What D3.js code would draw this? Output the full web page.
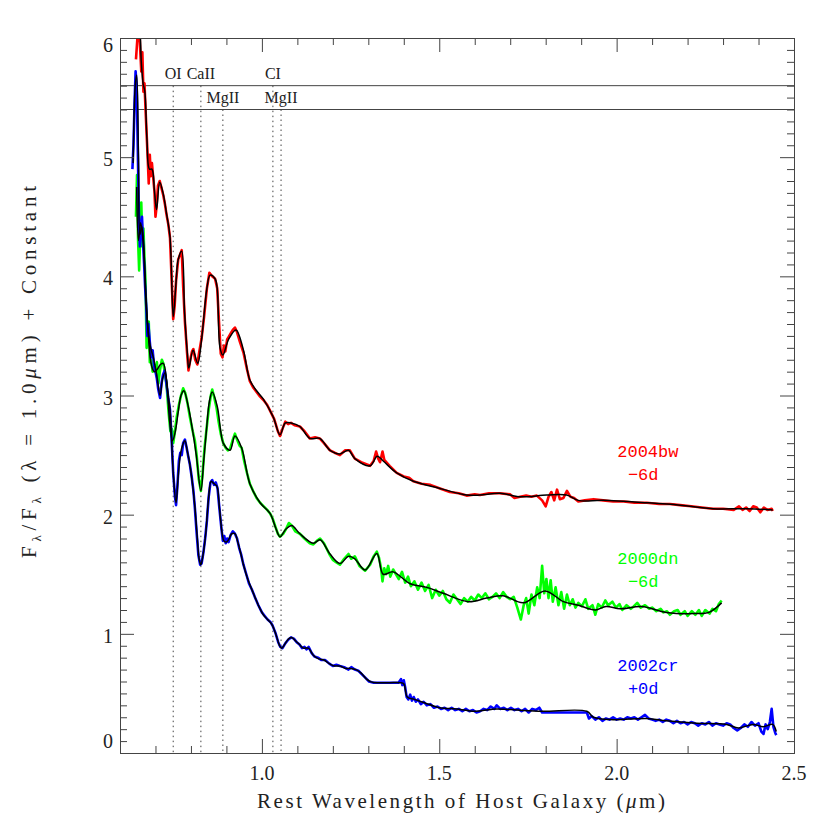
<!DOCTYPE html>
<html>
<head>
<meta charset="utf-8">
<script src="https://cdn.jsdelivr.net/npm/d3@7"></script>
<style>
  body { margin: 0; background: #fff; }
  svg { display: block; }
  .frame line, .frame path { stroke: #444; stroke-width: 1; }
  .tick-label { font-family: "Liberation Serif", serif; font-size: 20px; fill: #222; }
  .axis-title { font-family: "Liberation Serif", serif; font-size: 21px; fill: #222; }
  .line-id { font-family: "Liberation Serif", serif; font-size: 16px; fill: #222; }
  .sn-label { font-family: "Liberation Mono", monospace; font-size: 17px; }
</style>
</head>
<body>
<div id="chart"></div>
<script>

// x: rest wavelength (micron), y: F/F(1.0um) + constant
var xMajor = [1.0, 1.5, 2.0, 2.5];
var yMajor = [0, 1, 2, 3, 4, 5, 6];

var lineNames = ["OI", "CaII", "MgII", "CI", "MgII"];
var lineWaves = [0.750, 0.828, 0.890, 1.031, 1.054];
var lineRows  = [0, 0, 1, 0, 1];
var markerLevels = [5.6, 5.4];

var snNames  = ["2004bw", "2000dn", "2002cr"];
var snPhases = ["\u22126d", "\u22126d", "+0d"];
var snColors = ["#ff0000", "#00ff00", "#0000ff"];

// SN 2004bw -6d
var obs2004bw = [[0.645,5.82],[0.648,5.95],[0.651,6.08],[0.654,6.1],[0.657,5.9],[0.660,5.72],[0.663,5.88],[0.666,5.55],[0.669,5.62],[0.672,5.4],[0.675,5.2],[0.678,5.0],[0.681,4.78],[0.684,5.02],[0.687,4.84],[0.690,4.95],[0.693,4.85],[0.697,4.72],[0.700,4.5],[0.703,4.58],[0.707,4.76],[0.712,4.8],[0.717,4.74],[0.722,4.68],[0.727,4.6],[0.731,4.52],[0.736,4.44],[0.741,4.32],[0.745,4.02],[0.750,3.64],[0.754,3.75],[0.758,3.96],[0.764,4.14],[0.769,4.18],[0.774,4.22],[0.778,3.92],[0.783,3.62],[0.789,3.36],[0.793,3.21],[0.798,3.3],[0.803,3.37],[0.807,3.39],[0.812,3.3],[0.818,3.26],[0.823,3.36],[0.830,3.48],[0.837,3.66],[0.845,3.9],[0.852,4.03],[0.860,4.0],[0.868,3.98],[0.874,3.9],[0.879,3.62],[0.884,3.35],[0.889,3.32],[0.893,3.42],[0.897,3.37],[0.902,3.47],[0.906,3.49],[0.912,3.52],[0.918,3.55],[0.924,3.57],[0.930,3.53],[0.938,3.45],[0.948,3.36],[0.958,3.22],[0.966,3.12],[0.975,3.07],[0.985,3.03],[0.995,2.99],[1.005,2.96],[1.015,2.92],[1.025,2.86],[1.035,2.8],[1.045,2.7],[1.051,2.66],[1.058,2.72],[1.066,2.78],[1.074,2.76],[1.082,2.77],[1.092,2.75],[1.107,2.74],[1.120,2.7],[1.135,2.64],[1.150,2.65],[1.163,2.64],[1.175,2.6],[1.192,2.54],[1.205,2.52],[1.220,2.5],[1.235,2.54],[1.248,2.54],[1.262,2.47],[1.280,2.44],[1.305,2.41],[1.315,2.45],[1.322,2.53],[1.328,2.47],[1.333,2.44],[1.340,2.53],[1.345,2.46],[1.360,2.41],[1.380,2.35],[1.400,2.32],[1.415,2.31],[1.427,2.28],[1.450,2.26],[1.475,2.25],[1.502,2.22],[1.530,2.19],[1.555,2.18],[1.577,2.16],[1.600,2.17],[1.615,2.165],[1.640,2.18],[1.671,2.18],[1.700,2.17],[1.712,2.14],[1.728,2.15],[1.745,2.16],[1.760,2.15],[1.775,2.16],[1.790,2.12],[1.800,2.07],[1.808,2.15],[1.816,2.19],[1.824,2.12],[1.832,2.21],[1.840,2.13],[1.850,2.14],[1.860,2.2],[1.870,2.15],[1.880,2.14],[1.892,2.11],[1.910,2.12],[1.935,2.13],[1.962,2.12],[1.990,2.11],[2.020,2.11],[2.050,2.1],[2.085,2.1],[2.120,2.09],[2.150,2.09],[2.179,2.08],[2.210,2.07],[2.240,2.06],[2.272,2.05],[2.300,2.05],[2.330,2.04],[2.345,2.07],[2.355,2.04],[2.365,2.06],[2.375,2.03],[2.385,2.07],[2.395,2.06],[2.405,2.02],[2.415,2.06],[2.425,2.04],[2.437,2.05],[2.440,2.03]];
var fit2004bw = [[0.651,6.05],[0.655,6.08],[0.660,5.8],[0.665,5.62],[0.670,5.55],[0.676,5.15],[0.683,4.9],[0.690,4.9],[0.697,4.72],[0.703,4.56],[0.712,4.79],[0.722,4.69],[0.731,4.53],[0.741,4.33],[0.750,3.66],[0.758,3.95],[0.764,4.14],[0.774,4.21],[0.782,3.7],[0.790,3.35],[0.794,3.23],[0.806,3.38],[0.819,3.27],[0.830,3.47],[0.845,3.9],[0.854,4.01],[0.868,3.98],[0.874,3.9],[0.882,3.4],[0.890,3.34],[0.906,3.47],[0.927,3.55],[0.948,3.38],[0.966,3.13],[0.985,3.04],[1.004,2.97],[1.032,2.82],[1.051,2.67],[1.066,2.77],[1.082,2.77],[1.107,2.74],[1.135,2.64],[1.163,2.64],[1.192,2.54],[1.220,2.51],[1.244,2.54],[1.262,2.47],[1.305,2.41],[1.325,2.49],[1.342,2.45],[1.380,2.35],[1.427,2.28],[1.502,2.22],[1.577,2.165],[1.615,2.165],[1.671,2.18],[1.728,2.15],[1.803,2.165],[1.859,2.165],[1.892,2.12],[1.962,2.12],[2.085,2.1],[2.179,2.08],[2.272,2.05],[2.367,2.05],[2.440,2.04]];

// SN 2000dn -6d
var obs2000dn = [[0.645,4.5],[0.648,4.85],[0.651,4.3],[0.654,4.05],[0.657,4.35],[0.660,4.62],[0.663,4.25],[0.666,4.4],[0.669,4.15],[0.672,3.95],[0.675,3.4],[0.678,3.55],[0.681,3.62],[0.684,3.28],[0.688,3.3],[0.692,3.2],[0.696,3.26],[0.700,3.2],[0.704,3.28],[0.708,3.1],[0.713,3.22],[0.718,3.3],[0.722,3.27],[0.727,3.18],[0.732,3.06],[0.737,2.86],[0.742,2.7],[0.746,2.72],[0.750,2.6],[0.754,2.68],[0.760,2.82],[0.766,2.92],[0.772,3.0],[0.778,3.06],[0.784,3.02],[0.790,2.94],[0.797,2.82],[0.805,2.7],[0.811,2.62],[0.816,2.5],[0.822,2.3],[0.828,2.2],[0.833,2.35],[0.838,2.55],[0.844,2.72],[0.850,2.88],[0.856,3.0],[0.860,3.05],[0.866,2.98],[0.872,2.9],[0.878,2.78],[0.884,2.68],[0.891,2.6],[0.898,2.56],[0.904,2.54],[0.910,2.55],[0.917,2.62],[0.924,2.68],[0.930,2.63],[0.937,2.58],[0.943,2.56],[0.950,2.45],[0.958,2.35],[0.966,2.26],[0.975,2.2],[0.985,2.14],[0.995,2.1],[1.005,2.07],[1.015,2.04],[1.023,2.01],[1.030,1.97],[1.038,1.9],[1.045,1.84],[1.051,1.815],[1.060,1.84],[1.068,1.88],[1.076,1.93],[1.084,1.91],[1.094,1.86],[1.107,1.84],[1.120,1.8],[1.135,1.76],[1.145,1.75],[1.155,1.78],[1.164,1.8],[1.175,1.76],[1.190,1.67],[1.200,1.62],[1.210,1.6],[1.220,1.58],[1.232,1.63],[1.244,1.67],[1.252,1.63],[1.262,1.65],[1.275,1.57],[1.291,1.53],[1.305,1.58],[1.315,1.65],[1.324,1.69],[1.330,1.64],[1.336,1.55],[1.340,1.44],[1.345,1.55],[1.350,1.5],[1.356,1.57],[1.362,1.48],[1.370,1.54],[1.378,1.5],[1.386,1.46],[1.395,1.52],[1.404,1.43],[1.412,1.48],[1.420,1.4],[1.430,1.44],[1.440,1.37],[1.450,1.43],[1.460,1.36],[1.470,1.41],[1.480,1.3],[1.490,1.37],[1.500,1.32],[1.510,1.36],[1.520,1.29],[1.530,1.26],[1.540,1.33],[1.550,1.29],[1.560,1.25],[1.570,1.3],[1.580,1.27],[1.590,1.31],[1.600,1.28],[1.610,1.33],[1.620,1.3],[1.630,1.34],[1.640,1.29],[1.650,1.31],[1.660,1.34],[1.670,1.3],[1.680,1.35],[1.690,1.31],[1.700,1.29],[1.710,1.31],[1.720,1.22],[1.730,1.12],[1.738,1.24],[1.745,1.3],[1.752,1.17],[1.760,1.33],[1.768,1.24],[1.776,1.39],[1.783,1.3],[1.790,1.57],[1.796,1.34],[1.802,1.46],[1.808,1.3],[1.814,1.45],[1.820,1.27],[1.828,1.39],[1.836,1.24],[1.844,1.35],[1.852,1.21],[1.860,1.33],[1.868,1.24],[1.876,1.29],[1.884,1.22],[1.892,1.26],[1.902,1.23],[1.912,1.29],[1.920,1.21],[1.932,1.24],[1.940,1.16],[1.948,1.25],[1.958,1.22],[1.968,1.28],[1.976,1.24],[1.988,1.27],[1.998,1.22],[2.008,1.25],[2.016,1.2],[2.028,1.24],[2.040,1.21],[2.048,1.23],[2.058,1.26],[2.068,1.22],[2.080,1.24],[2.092,1.21],[2.100,1.22],[2.112,1.19],[2.124,1.21],[2.132,1.18],[2.142,1.19],[2.150,1.16],[2.162,1.19],[2.172,1.2],[2.180,1.16],[2.192,1.19],[2.200,1.15],[2.212,1.19],[2.222,1.16],[2.232,1.2],[2.240,1.15],[2.250,1.2],[2.262,1.17],[2.270,1.21],[2.280,1.19],[2.288,1.25],[2.296,1.28]];
var fit2000dn = [[0.647,4.75],[0.652,4.3],[0.658,4.45],[0.665,4.3],[0.672,3.9],[0.680,3.5],[0.689,3.25],[0.697,3.2],[0.705,3.22],[0.714,3.26],[0.722,3.27],[0.732,3.1],[0.740,2.78],[0.748,2.62],[0.756,2.7],[0.764,2.86],[0.772,3.0],[0.780,3.04],[0.793,2.9],[0.805,2.7],[0.815,2.5],[0.828,2.2],[0.836,2.45],[0.844,2.72],[0.852,2.95],[0.860,3.03],[0.874,2.91],[0.884,2.7],[0.891,2.6],[0.910,2.54],[0.924,2.66],[0.943,2.56],[0.966,2.26],[0.995,2.1],[1.023,2.01],[1.040,1.88],[1.051,1.815],[1.068,1.88],[1.084,1.91],[1.107,1.84],[1.145,1.76],[1.164,1.79],[1.192,1.67],[1.220,1.59],[1.244,1.65],[1.262,1.63],[1.291,1.535],[1.324,1.675],[1.342,1.5],[1.370,1.52],[1.418,1.42],[1.465,1.39],[1.511,1.34],[1.582,1.27],[1.634,1.3],[1.680,1.32],[1.737,1.26],[1.798,1.36],[1.850,1.27],[1.892,1.24],[1.940,1.2],[1.970,1.23],[2.010,1.21],[2.070,1.23],[2.140,1.18],[2.220,1.17],[2.260,1.18],[2.296,1.26]];

// SN 2002cr +0d
var obs2002cr = [[0.635,4.9],[0.638,5.1],[0.641,5.45],[0.644,5.72],[0.647,5.6],[0.650,5.1],[0.653,4.55],[0.656,4.25],[0.659,4.4],[0.662,4.5],[0.665,4.28],[0.668,4.1],[0.671,3.9],[0.674,3.75],[0.677,3.5],[0.680,3.6],[0.684,3.45],[0.688,3.32],[0.692,3.38],[0.696,3.25],[0.700,3.2],[0.704,3.14],[0.708,3.05],[0.713,2.98],[0.717,3.1],[0.721,3.17],[0.726,3.21],[0.731,3.1],[0.736,2.98],[0.741,2.88],[0.746,2.6],[0.750,2.35],[0.755,2.15],[0.758,2.08],[0.762,2.25],[0.766,2.45],[0.770,2.52],[0.774,2.5],[0.778,2.6],[0.783,2.63],[0.788,2.56],[0.793,2.48],[0.797,2.42],[0.802,2.32],[0.807,2.2],[0.811,2.06],[0.816,1.85],[0.821,1.66],[0.826,1.58],[0.830,1.59],[0.835,1.68],[0.840,1.8],[0.845,1.95],[0.850,2.15],[0.855,2.27],[0.860,2.29],[0.865,2.25],[0.870,2.27],[0.875,2.22],[0.880,2.06],[0.886,1.88],[0.890,1.78],[0.894,1.82],[0.898,1.76],[0.902,1.8],[0.906,1.77],[0.912,1.83],[0.918,1.86],[0.924,1.84],[0.930,1.8],[0.936,1.72],[0.942,1.66],[0.948,1.58],[0.956,1.5],[0.964,1.42],[0.972,1.37],[0.980,1.31],[0.990,1.24],[1.000,1.18],[1.008,1.15],[1.016,1.12],[1.024,1.1],[1.030,1.07],[1.038,1.01],[1.046,0.93],[1.052,0.89],[1.058,0.88],[1.066,0.92],[1.074,0.95],[1.082,0.97],[1.090,0.96],[1.098,0.93],[1.106,0.91],[1.113,0.88],[1.120,0.89],[1.126,0.87],[1.132,0.89],[1.140,0.84],[1.148,0.81],[1.158,0.8],[1.168,0.78],[1.178,0.78],[1.190,0.75],[1.200,0.73],[1.210,0.74],[1.220,0.73],[1.232,0.72],[1.244,0.7],[1.252,0.72],[1.262,0.7],[1.272,0.69],[1.282,0.66],[1.292,0.63],[1.302,0.6],[1.315,0.59],[1.330,0.59],[1.350,0.59],[1.370,0.59],[1.385,0.59],[1.392,0.62],[1.396,0.57],[1.400,0.61],[1.404,0.55],[1.408,0.47],[1.413,0.45],[1.418,0.49],[1.423,0.44],[1.428,0.47],[1.434,0.43],[1.440,0.45],[1.448,0.41],[1.456,0.43],[1.465,0.4],[1.475,0.41],[1.485,0.38],[1.495,0.39],[1.505,0.37],[1.515,0.38],[1.525,0.36],[1.535,0.38],[1.545,0.36],[1.555,0.37],[1.565,0.35],[1.575,0.37],[1.585,0.35],[1.595,0.36],[1.605,0.34],[1.615,0.35],[1.625,0.37],[1.635,0.36],[1.645,0.39],[1.655,0.37],[1.662,0.4],[1.672,0.37],[1.682,0.38],[1.692,0.36],[1.702,0.38],[1.712,0.36],[1.722,0.37],[1.732,0.35],[1.742,0.37],[1.752,0.34],[1.762,0.37],[1.772,0.36],[1.782,0.38],[1.790,0.34],[1.916,0.34],[1.922,0.29],[1.930,0.31],[1.940,0.28],[1.950,0.3],[1.960,0.27],[1.970,0.29],[1.980,0.28],[1.990,0.3],[2.000,0.28],[2.010,0.29],[2.020,0.28],[2.030,0.3],[2.040,0.29],[2.050,0.3],[2.060,0.28],[2.070,0.3],[2.080,0.32],[2.090,0.29],[2.100,0.28],[2.110,0.27],[2.120,0.28],[2.130,0.26],[2.140,0.28],[2.150,0.27],[2.160,0.25],[2.170,0.27],[2.180,0.25],[2.190,0.26],[2.200,0.24],[2.210,0.26],[2.220,0.25],[2.230,0.23],[2.240,0.25],[2.250,0.24],[2.260,0.26],[2.270,0.23],[2.280,0.25],[2.290,0.24],[2.300,0.23],[2.310,0.25],[2.320,0.24],[2.330,0.21],[2.340,0.19],[2.350,0.21],[2.360,0.24],[2.370,0.22],[2.380,0.26],[2.390,0.23],[2.400,0.25],[2.408,0.18],[2.414,0.16],[2.420,0.24],[2.426,0.2],[2.432,0.26],[2.437,0.37],[2.442,0.22],[2.447,0.17],[2.450,0.15]];
var fit2002cr = [[0.637,4.95],[0.643,5.6],[0.647,5.69],[0.652,5.0],[0.656,4.35],[0.661,4.42],[0.666,4.3],[0.675,3.7],[0.685,3.42],[0.694,3.32],[0.703,3.18],[0.713,3.0],[0.720,3.14],[0.727,3.19],[0.735,3.02],[0.741,2.88],[0.750,2.35],[0.758,2.1],[0.764,2.32],[0.770,2.5],[0.776,2.58],[0.783,2.62],[0.790,2.53],[0.797,2.42],[0.805,2.24],[0.811,2.07],[0.818,1.8],[0.823,1.63],[0.828,1.58],[0.834,1.66],[0.842,1.85],[0.850,2.15],[0.857,2.28],[0.865,2.26],[0.873,2.24],[0.880,2.07],[0.888,1.84],[0.893,1.78],[0.900,1.77],[0.906,1.79],[0.915,1.84],[0.924,1.84],[0.932,1.77],[0.940,1.68],[0.948,1.58],[0.960,1.46],[0.976,1.34],[0.990,1.24],[1.004,1.16],[1.016,1.12],[1.028,1.08],[1.040,0.99],[1.050,0.9],[1.056,0.88],[1.066,0.92],[1.076,0.96],[1.084,0.97],[1.095,0.94],[1.106,0.91],[1.117,0.88],[1.131,0.88],[1.145,0.82],[1.160,0.79],[1.175,0.78],[1.190,0.75],[1.205,0.73],[1.220,0.73],[1.235,0.71],[1.250,0.71],[1.265,0.7],[1.280,0.67],[1.295,0.62],[1.310,0.595],[1.330,0.59],[1.360,0.59],[1.390,0.59],[1.400,0.58],[1.410,0.47],[1.430,0.45],[1.460,0.42],[1.500,0.38],[1.550,0.37],[1.600,0.35],[1.662,0.37],[1.720,0.36],[1.790,0.35],[1.916,0.35],[1.935,0.3],[1.990,0.28],[2.085,0.29],[2.140,0.27],[2.226,0.25],[2.310,0.24],[2.343,0.21],[2.385,0.24],[2.413,0.22],[2.440,0.24],[2.450,0.18]];

var observed = [obs2004bw, obs2000dn, obs2002cr];
var fits = [fit2004bw, fit2000dn, fit2002cr];

var width = 830, height = 830;
var padL = 120, padR = 794, padT = 38, padB = 753;

var x = d3.scaleLinear().domain([0.6, 2.5]).range([padL, padR]);
var y = d3.scaleLinear().domain([0, 6]).range([padB, padT]);

var svg = d3.select("#chart").append("svg")
  .attr("width", width)
  .attr("height", height);

svg.append("rect").attr("width", width).attr("height", height).attr("fill", "#fff");

svg.append("defs").append("clipPath").attr("id", "plotclip")
  .append("rect")
  .attr("x", padL).attr("y", padT)
  .attr("width", padR - padL).attr("height", padB - padT);

var plot = svg.append("g").attr("clip-path", "url(#plotclip)");

// line id markers
plot.selectAll(".level")
  .data(markerLevels)
  .enter().append("line")
  .attr("x1", padL).attr("x2", padR)
  .attr("y1", function(d) { return y(d); })
  .attr("y2", function(d) { return y(d); })
  .attr("stroke", "#444")
  .attr("stroke-width", 1);

plot.selectAll(".dotline")
  .data(lineWaves)
  .enter().append("line")
  .attr("x1", function(d) { return x(d); })
  .attr("x2", function(d) { return x(d); })
  .attr("y1", function(d, i) { return y(markerLevels[lineRows[i]]); })
  .attr("y2", padB)
  .attr("stroke", "#444")
  .attr("stroke-width", 1)
  .attr("stroke-dasharray", "1.5,3.5");

svg.selectAll(".line-id")
  .data(lineNames)
  .enter().append("text")
  .attr("class", "line-id")
  .attr("text-anchor", "middle")
  .attr("x", function(d, i) { return x(lineWaves[i]); })
  .attr("y", function(d, i) { return y(markerLevels[lineRows[i]]) - 7; })
  .text(function(d) { return d; });

// spectra
var path = d3.line()
  .x(function(d) { return x(d[0]); })
  .y(function(d) { return y(d[1]); });

var smooth = d3.line()
  .curve(d3.curveCatmullRom.alpha(0.5))
  .x(function(d) { return x(d[0]); })
  .y(function(d) { return y(d[1]); });

observed.forEach(function(s, i) {
  plot.append("path")
    .datum(s)
    .attr("d", path)
    .attr("fill", "none")
    .attr("stroke", snColors[i])
    .attr("stroke-width", 2.6)
    .attr("stroke-linejoin", "round");
});

fits.forEach(function(s) {
  plot.append("path")
    .datum(s)
    .attr("d", smooth)
    .attr("fill", "none")
    .attr("stroke", "#000")
    .attr("stroke-width", 1.5)
    .attr("stroke-linejoin", "round");
});

// SN labels
var labelY = [2.48, 1.585, 0.688];
snNames.forEach(function(name, i) {
  svg.append("text")
    .attr("class", "sn-label")
    .attr("x", x(2.088)).attr("y", y(labelY[i]))
    .attr("text-anchor", "middle")
    .attr("fill", snColors[i])
    .text(name);
  svg.append("text")
    .attr("class", "sn-label")
    .attr("x", x(2.075)).attr("y", y(labelY[i]) + 23)
    .attr("text-anchor", "middle")
    .attr("fill", snColors[i])
    .text(snPhases[i]);
});

// frame and ticks
var xMinor = d3.range(6, 26).map(function(d) { return d / 10; })
  .filter(function(d) { return xMajor.indexOf(d) < 0; });
var yMinor = d3.range(0, 61).map(function(d) { return d / 10; })
  .filter(function(d) { return yMajor.indexOf(d) < 0; });

var frame = svg.append("g").attr("class", "frame");

frame.append("g").attr("transform", "translate(0," + padB + ")")
  .call(d3.axisBottom(x).tickValues(xMajor).tickSize(-14).tickFormat(""));
frame.append("g").attr("transform", "translate(0," + padB + ")")
  .call(d3.axisBottom(x).tickValues(xMinor).tickSize(-7).tickFormat(""));
frame.append("g").attr("transform", "translate(0," + padT + ")")
  .call(d3.axisTop(x).tickValues(xMajor).tickSize(-14).tickFormat(""));
frame.append("g").attr("transform", "translate(0," + padT + ")")
  .call(d3.axisTop(x).tickValues(xMinor).tickSize(-7).tickFormat(""));
frame.append("g").attr("transform", "translate(" + padL + ",0)")
  .call(d3.axisLeft(y).tickValues(yMajor).tickSize(-14).tickFormat(""));
frame.append("g").attr("transform", "translate(" + padL + ",0)")
  .call(d3.axisLeft(y).tickValues(yMinor).tickSize(-7).tickFormat(""));
frame.append("g").attr("transform", "translate(" + padR + ",0)")
  .call(d3.axisRight(y).tickValues(yMajor).tickSize(-14).tickFormat(""));
frame.append("g").attr("transform", "translate(" + padR + ",0)")
  .call(d3.axisRight(y).tickValues(yMinor).tickSize(-7).tickFormat(""));
frame.selectAll(".domain").attr("stroke", "#444");

// tick labels
svg.selectAll(".xlab")
  .data(xMajor)
  .enter().append("text")
  .attr("class", "tick-label")
  .attr("text-anchor", "middle")
  .attr("x", function(d) { return x(d); })
  .attr("y", padB + 27)
  .text(function(d) { return d.toFixed(1); });

svg.selectAll(".ylab")
  .data(yMajor)
  .enter().append("text")
  .attr("class", "tick-label")
  .attr("text-anchor", "end")
  .attr("x", padL - 7)
  .attr("y", function(d) { return Math.min(Math.max(y(d) + 9, padT + 14), padB - 5); })
  .text(function(d) { return d; });

// axis titles
var xt = svg.append("text")
  .attr("class", "axis-title")
  .attr("text-anchor", "middle")
  .attr("x", 461).attr("y", 808)
  .attr("textLength", 408)
  .attr("lengthAdjust", "spacing");
xt.append("tspan").text("Rest Wavelength of Host Galaxy (");
xt.append("tspan").attr("font-style", "italic").text("\u03bc");
xt.append("tspan").text("m)");

var yt = svg.append("text")
  .attr("class", "axis-title")
  .attr("text-anchor", "middle")
  .attr("transform", "translate(36,372) rotate(-90)")
  .attr("textLength", 372)
  .attr("lengthAdjust", "spacing");
yt.append("tspan").text("F");
yt.append("tspan").attr("font-size", "13px").attr("dy", 5).text("\u03bb");
yt.append("tspan").attr("dy", -5).text("/F");
yt.append("tspan").attr("font-size", "13px").attr("dy", 5).text("\u03bb");
yt.append("tspan").attr("dy", -5).text(" (\u03bb = 1.0");
yt.append("tspan").attr("font-style", "italic").text("\u03bc");
yt.append("tspan").text("m) +  Constant");

</script>
</body>
</html>
